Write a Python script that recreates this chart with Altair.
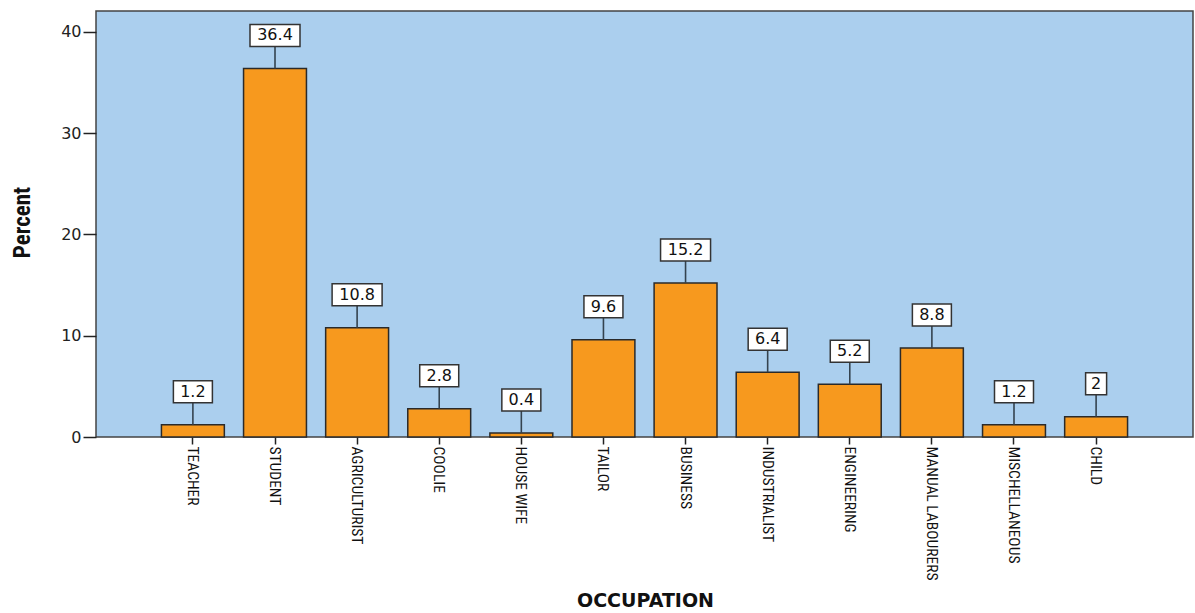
import altair as alt
import pandas as pd

occupations = ["TEACHER", "STUDENT", "AGRICULTURIST", "COOLIE", "HOUSE WIFE", "TAILOR",
               "BUSINESS", "INDUSTRIALIST", "ENGINEERING", "MANUAL LABOURERS",
               "MISCHELLANEOUS", "CHILD"]
percents = [1.2, 36.4, 10.8, 2.8, 0.4, 9.6, 15.2, 6.4, 5.2, 8.8, 1.2, 2.0]
y_ticks = [0, 10, 20, 30, 40]

df = pd.DataFrame({"occupation": occupations, "percent": percents})

NARROW = "Liberation Sans Narrow, Roboto Condensed, Liberation Sans, Arial"
WIDE = "DejaVu Sans, Verdana, sans-serif"

x_enc = alt.X(
    "occupation:N",
    sort=occupations,
    scale=alt.Scale(paddingInner=0.234, paddingOuter=0.797),
    axis=alt.Axis(
        title="OCCUPATION",
        labelAngle=90,
        labelAlign="left",
        labelBaseline="middle",
        labelFont=NARROW,
        labelFontSize=15.5,
        labelColor="#111",
        labelPadding=2,
        tickSize=7,
        tickColor="#222",
        tickWidth=1.5,
        domain=False,
        titleFont=WIDE,
        titleFontSize=19,
        titleFontWeight="bold",
        titleColor="#111",
        titleX=549,
        titleY=163,
        titleBaseline="middle",
    ),
)
y_enc = alt.Y(
    "percent:Q",
    scale=alt.Scale(domain=[0, 42.07], nice=False, zero=True),
    axis=alt.Axis(
        title="Percent",
        values=y_ticks,
        grid=False,
        domain=False,
        tickSize=13,
        tickColor="#222",
        tickWidth=1.5,
        labelFont=WIDE,
        labelFontSize=16,
        labelColor="#222",
        labelPadding=2,
        titleFont=NARROW,
        titleFontSize=23,
        titleFontWeight="bold",
        titleColor="#111",
        titleAngle=-90,
        titleX=-74,
        titleY=211,
        titleBaseline="middle",
    ),
)

base = alt.Chart(df).encode(x=x_enc)

bars = base.mark_bar(color="#F7991E", stroke="#2a2a2a", strokeWidth=1.5).encode(y=y_enc)

# leader line from the bar top up to the value box
leaders = base.mark_rule(color="#34434f", strokeWidth=1.6, y2Offset=-22).encode(
    y="percent:Q", y2="percent:Q"
)

labelled = base.transform_calculate(
    label="format(datum.percent, '.1~f')"
).transform_calculate(
    nchar="length(datum.label)"
)

# white value boxes, width depends on the number of characters
box_paths = {
    1: "M-0.42,-0.44L0.42,-0.44L0.42,0.44L-0.42,0.44Z",
    3: "M-0.78,-0.44L0.78,-0.44L0.78,0.44L-0.78,0.44Z",
    4: "M-1,-0.44L1,-0.44L1,0.44L-1,0.44Z",
}
boxes = labelled.mark_point(
    filled=True, fill="white", stroke="#333", strokeWidth=1.5, opacity=1, size=2500, yOffset=-33
).encode(
    y="percent:Q",
    shape=alt.Shape(
        "nchar:O",
        scale=alt.Scale(domain=list(box_paths.keys()), range=list(box_paths.values())),
        legend=None,
    ),
)

texts = labelled.mark_text(
    yOffset=-33, baseline="middle", align="center", font=WIDE, fontSize=16, color="#111"
).encode(y="percent:Q", text="label:N")

chart = (
    alt.layer(bars, leaders, boxes, texts)
    .properties(
        width=1097,
        height=426,
        autosize=alt.AutoSizeParams(type="none"),
        padding={"left": 96, "top": 11, "right": 2, "bottom": 176},
        background="white",
    )
    .configure_view(fill="#ABCFEE", stroke="#444", strokeWidth=1.5)
)

chart.save("out.html", embed_options={"renderer": "svg", "actions": False})
